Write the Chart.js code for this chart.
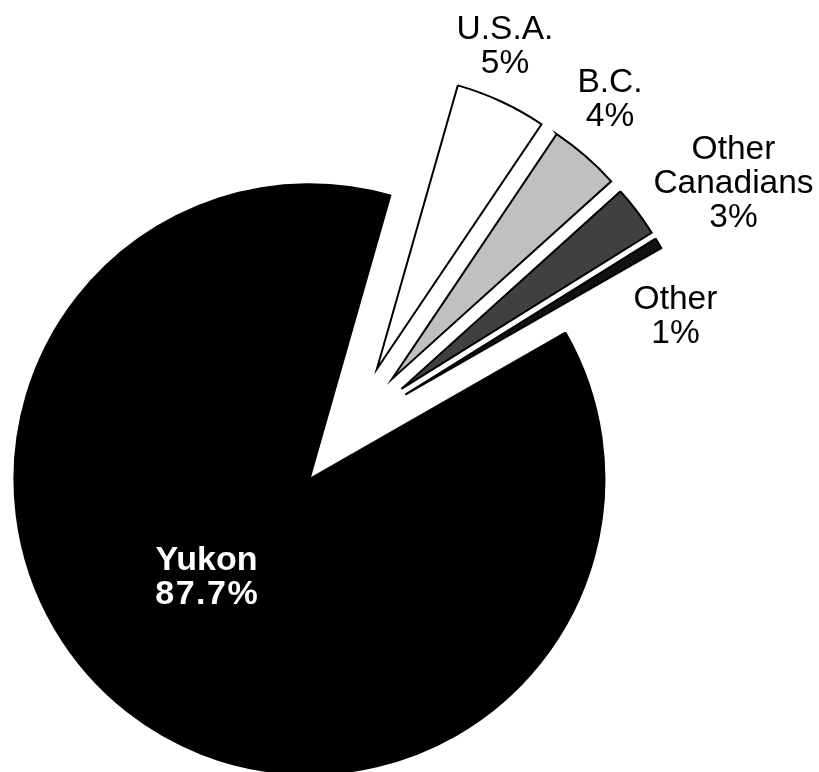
<!DOCTYPE html>
<html>
<head>
<meta charset="utf-8">
<style>
html,body{margin:0;padding:0;background:#ffffff;}
#wrap{width:819px;height:772px;position:relative;}
</style>
<script src="https://cdn.jsdelivr.net/npm/chart.js@4.4.1/dist/chart.umd.min.js"></script>
</head>
<body>
<div id="wrap"><canvas id="c" width="819" height="772"></canvas></div>
<script>
// ---- data ----
const categories = ['Yukon', 'U.S.A.', 'B.C.', 'Other Canadians', 'Other'];
const values = [87.7, 5.0, 3.9, 2.8, 0.6];
const nameLines = [['Yukon'], ['U.S.A.'], ['B.C.'], ['Other', 'Canadians'], ['Other']];
const percentLabels = ['87.7%', '5%', '4%', '3%', '1%'];

// ---- styling / layout ----
const sliceColors = ['#000000', '#ffffff', '#c0c0c0', '#404040', '#111111'];
const explodeDist = [65, 65, 65, 65, 65];
// label anchor relative to pie centre: [centre x offset, first baseline y offset]
const labelAnchor = [[-143, 142], [155.5, -389], [260.5, -336], [384, -268.7], [326, -118.7]];
const labelFont = ['bold 34px "Liberation Sans", Arial, sans-serif', '33.5px "Liberation Sans", Arial, sans-serif'];
const lineHeight = 34;

const explodePlugin = {
  id: 'explode',
  beforeDatasetDraw(chart, args) {
    const ctx = chart.ctx;
    args.meta.data.forEach((arc, i) => {
      const mid = (arc.startAngle + arc.endAngle) / 2;
      const d = explodeDist[i] || 0;
      ctx.save();
      ctx.translate(Math.cos(mid) * d, Math.sin(mid) * d);
      arc.draw(ctx, chart.chartArea);
      ctx.restore();
    });
    return false;
  },
  afterDatasetsDraw(chart) {
    const meta = chart.getDatasetMeta(0);
    const cx = meta.data[0].x, cy = meta.data[0].y;
    const ctx = chart.ctx;
    ctx.save();
    ctx.textAlign = 'center';
    ctx.textBaseline = 'alphabetic';
    categories.forEach((cat, i) => {
      const lines = nameLines[i].concat([percentLabels[i]]);
      const x = cx + labelAnchor[i][0];
      let y = cy + labelAnchor[i][1];
      ctx.font = i === 0 ? labelFont[0] : labelFont[1];
      ctx.fillStyle = i === 0 ? '#ffffff' : '#000000';
      lines.forEach((t, k) => {
        if (i === 0 && k === 1 && 'letterSpacing' in ctx) {
          ctx.letterSpacing = '1.5px';
          ctx.fillText(t, x + 0.75, y + k * lineHeight);
          ctx.letterSpacing = '0px';
        } else {
          ctx.fillText(t, x, y + k * lineHeight);
        }
      });
    });
    ctx.restore();
  }
};

new Chart(document.getElementById('c'), {
  type: 'pie',
  data: {
    labels: categories,
    datasets: [{
      data: values,
      backgroundColor: sliceColors,
      borderColor: '#000000',
      borderWidth: 2,
      borderJoinStyle: 'miter',
      radius: 295
    }]
  },
  options: {
    responsive: false,
    animation: false,
    devicePixelRatio: 1,
    rotation: 60.2,
    events: [],
    layout: { padding: { left: 0, right: 120, top: 84, bottom: 0 } },
    plugins: { legend: { display: false }, tooltip: { enabled: false } }
  },
  plugins: [explodePlugin]
});
</script>
</body>
</html>
